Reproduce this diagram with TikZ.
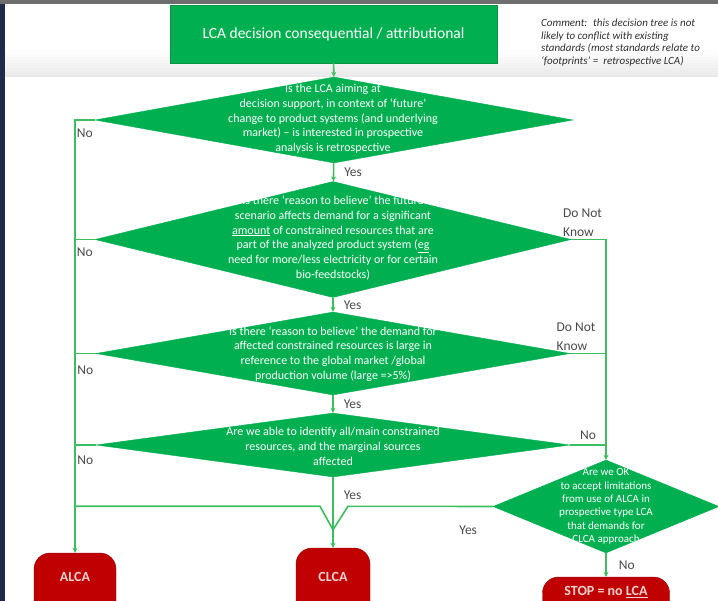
\documentclass[tikz,border=0pt]{standalone}
\usepackage{fontspec}
\setmainfont{Carlito}
\usepackage{xcolor}
\usepackage{tikz}
\usetikzlibrary{
    arrows.meta,
    calc,
    positioning,
    shapes.geometric
}
\definecolor{lcagreen}{HTML}{00B050}
\definecolor{lcadark}{HTML}{0A9442}
\definecolor{lcaline}{HTML}{3DBE5E}
\definecolor{lcared}{HTML}{C00000}
\definecolor{lcareddark}{HTML}{8E0000}
\definecolor{lcaredtext}{HTML}{F8D2D2}
\definecolor{lcalabel}{HTML}{4A4A4A}
\definecolor{lcacomment}{HTML}{2E2E2E}
\definecolor{lcanavy}{HTML}{1F2A4A}
\definecolor{lcabar}{HTML}{6E6E6E}
\tikzstyle{titlebox}=[
    rectangle,
    minimum width=327pt,
    minimum height=58pt,
    align=center,
    draw=lcadark,
    fill=lcagreen,
    text=white,
    font=\fontsize{15.5}{18}\selectfont
]
\tikzstyle{decision}=[
    diamond,
    inner sep=0pt,
    draw=lcagreen,
    fill=lcagreen
]
\tikzstyle{question}=[
    inner sep=0pt,
    align=center,
    text=white,
    font=\fontsize{12}{14.7}\selectfont
]
\tikzstyle{outcome}=[
    rectangle,
    rounded corners=16pt,
    align=center,
    draw=lcareddark,
    fill=lcared,
    text=lcaredtext,
    font=\fontsize{14}{16}\bfseries\selectfont
]
\tikzstyle{answer}=[inner sep=0pt,align=left,text=lcalabel,font=\fontsize{13.5}{19}\selectfont]
\tikzstyle{arrow}=[line width=1.6pt,draw=lcaline,-{Stealth[length=5pt,width=5pt]}]
\tikzstyle{flow}=[line width=1.6pt,draw=lcaline]

\begin{document}
\begin{tikzpicture}[x=1pt,y=1pt]
\useasboundingbox (0,0) rectangle (718,-601);
\fill[lcabar] (0,0) rectangle (718,-4);
\fill[lcanavy] (0,-4) rectangle (5,-601);
\shade[top color=white,bottom color=black!9] (5,-50) rectangle (718,-77);

\node[titlebox] (title) at (333.5,-34) {LCA decision consequential / attributional};
\node[anchor=west,inner sep=0pt,align=left,text=lcacomment,font=\itshape\fontsize{11}{12.5}\selectfont] (comment) at (541,-42.5) {Comment:~ this decision tree is not\\likely to conflict with existing\\standards (most standards relate to\\‘footprints’ =~ retrospective LCA)};

\node[decision,minimum width=478pt,minimum height=86pt] (aim) at (334,-120) {};
\node[question] (aimtext) at (333,-119) {Is the LCA aiming at\\decision support, in context of ‘future’\\change to product systems (and underlying\\market) -- is interested in prospective\\analysis is retrospective};
\node[decision,minimum width=476pt,minimum height=116pt] (believe) at (333,-239.5) {};
\node[question] (believetext) at (333,-238) {Is there ‘reason to believe’ the future\\scenario affects demand for a significant\\\underline{amount} of constrained resources that are\\part of the analyzed product system (\underline{eg}\\need for more/less electricity or for certain\\bio-feedstocks)};
\node[decision,minimum width=474pt,minimum height=83pt] (demand) at (333,-353.5) {};
\node[question] (demandtext) at (333,-354) {Is there ‘reason to believe’ the demand for\\affected constrained resources is large in\\reference to the global market /global\\production volume (large =>5\%)};
\node[decision,minimum width=474pt,minimum height=64pt] (identify) at (333,-445) {};
\node[question] (identifytext) at (333,-446.5) {Are we able to identify all/main constrained\\resources, and the marginal sources\\affected};
\node[decision,minimum width=226pt,minimum height=93pt] (accept) at (606,-506.5) {};
\node[question,font=\fontsize{11}{13.4}\selectfont] (accepttext) at (606,-506.5) {Are we OK\\to accept limitations\\from use of ALCA in\\prospective type LCA\\that demands for\\CLCA approach};

\node[outcome,minimum width=82pt,minimum height=70pt,text depth=22pt] (alca) at (75,-588) {ALCA};
\node[outcome,minimum width=74pt,minimum height=80pt,text depth=22pt] (clca) at (333,-588) {CLCA};
\node[outcome,minimum width=127pt,minimum height=40pt,text depth=12pt] (stop) at (606,-597) {STOP = no \underline{LCA}};

\coordinate (vjoin) at ($(clca.north)+(0,18)$);
\coordinate (hopright) at ($(vjoin)+(15,23.5)$);
\coordinate (hopleft) at ($(vjoin)+(-13,23.5)$);

\draw[arrow] (title) -- (aim);
\draw[arrow] (aim) -- node[answer,right=10pt] (yes1) {Yes} (believe);
\draw[arrow] (believe) -- node[answer,right=10pt] (yes2) {Yes} (demand);
\draw[arrow] (demand) -- node[answer,right=10pt] (yes3) {Yes} (identify);
\draw[arrow] (identify) -- node[answer,right=10pt,pos=0.25] (yes4) {Yes} (clca);
\draw[arrow] (accept) -- node[answer,right=12pt] (no5) {No} (stop);

\draw[arrow] (aim.west) -| node[answer,below=8.5pt,pos=0.25] (no1) {No} (alca.north);
\draw[flow] (believe.west) -- node[answer,below=8pt] (no2) {No} (believe.west -| alca.north);
\draw[flow] (demand.west) -- node[answer,below=12pt] (no3) {No} (demand.west -| alca.north);
\draw[flow] (identify.west) -- node[answer,below=10.5pt] (no4) {No} (identify.west -| alca.north);

\draw[arrow] (believe.east) -| node[answer,above=2pt,pos=0.25,xshift=-6pt] (dnk1) {Do Not\\Know} (accept.north);
\draw[flow] (demand.east) -- node[answer,above=2pt,xshift=-12pt] (dnk2) {Do Not\\Know} (demand.east -| accept.north);
\draw[flow] (identify.east) -- node[answer,above=5pt] (no6) {No} (identify.east -| accept.north);

\draw[flow] (accept.west) -- node[answer,pos=0.17,below=19pt] (yes5) {Yes} (hopright) -- (vjoin);
\draw[flow] (alca.north |- hopleft) -- (hopleft) -- (vjoin);
\end{tikzpicture}
\end{document}
